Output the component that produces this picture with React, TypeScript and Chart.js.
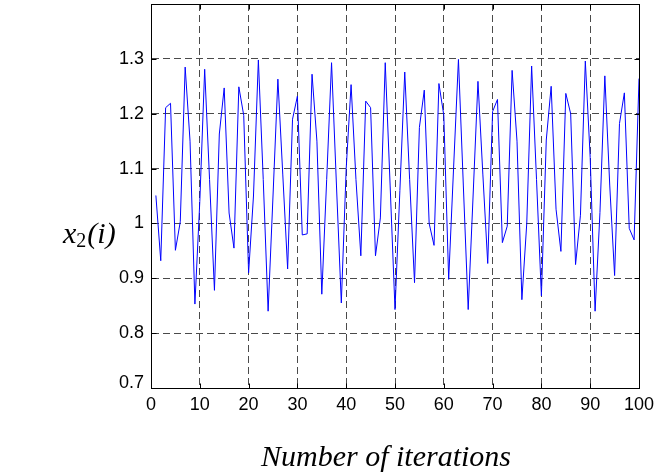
import React, { useEffect, useRef } from 'react';
import { Chart, registerables } from 'chart.js';

Chart.register(...registerables);

// Iteration index i = 1..100
const iterations: number[] = Array.from({ length: 100 }, (_, k) => k + 1);

// x2(i) values
const x2Values: number[] = [
  1.051, 0.932, 1.211, 1.219, 0.951, 1.003, 1.285, 1.15, 0.853, 1.04,
  1.281, 1.08, 0.878, 1.163, 1.247, 1.019, 0.955, 1.249, 1.197, 0.91,
  1.05, 1.298, 1.08, 0.84, 1.05, 1.263, 1.09, 0.917, 1.19, 1.232,
  0.979, 0.981, 1.272, 1.15, 0.871, 1.08, 1.293, 1.07, 0.855, 1.1,
  1.253, 1.08, 0.941, 1.223, 1.211, 0.941, 1.01, 1.293, 1.07, 0.843,
  1.06, 1.276, 1.08, 0.892, 1.175, 1.243, 1.0, 0.96, 1.255, 1.197,
  0.898, 1.1, 1.299, 1.07, 0.843, 1.05, 1.259, 1.09, 0.927, 1.204,
  1.226, 0.965, 0.995, 1.279, 1.15, 0.861, 1.0, 1.287, 1.08, 0.868,
  1.152, 1.25, 1.026, 0.949, 1.237, 1.2, 0.925, 1.015, 1.296, 1.12,
  0.84, 1.02, 1.269, 1.07, 0.905, 1.182, 1.238, 0.991, 0.97, 1.264,
];

const xTickLabels: string[] = ['0', '10', '20', '30', '40', '50', '60', '70', '80', '90', '100'];
const yTickLabels: string[] = ['0.7', '0.8', '0.9', '1', '1.1', '1.2', '1.3', ''];

const xTitle = 'Number of iterations';
const yTitleMain = 'x';
const yTitleSub = '2';
const yTitleTail = '(i)';

const tickFontCss = '18px "Liberation Sans", Arial, sans-serif';

const framePlugin = {
  id: 'matlabFrame',
  afterDraw(chart: any) {
    const { ctx, chartArea } = chart;
    const { left, right, top, bottom } = chartArea;
    const xs = chart.scales.x;
    const ys = chart.scales.y;
    ctx.save();
    ctx.strokeStyle = '#000';
    ctx.lineWidth = 1;
    ctx.setLineDash([]);
    ctx.beginPath();
    const L = Math.round(left) + 0.5;
    const R = Math.round(right) + 0.5;
    const T = Math.round(top) + 0.5;
    const B = Math.round(bottom) + 0.5;
    ctx.rect(L, T, R - L, B - T);
    ctx.stroke();
    // inward tick marks
    const tl = 5;
    ctx.beginPath();
    xs.ticks.forEach((t: any) => {
      const px = Math.round(xs.getPixelForValue(t.value)) + 0.5;
      ctx.moveTo(px, B);
      ctx.lineTo(px, B - tl);
      ctx.moveTo(px, T);
      ctx.lineTo(px, T + tl);
    });
    ys.ticks.forEach((t: any) => {
      const py = Math.round(ys.getPixelForValue(t.value)) + 0.5;
      ctx.moveTo(L, py);
      ctx.lineTo(L + tl, py);
      ctx.moveTo(R, py);
      ctx.lineTo(R - tl, py);
    });
    ctx.stroke();

    // bottom y tick label (sits slightly above the corner, as in the reference)
    ctx.fillStyle = '#000';
    ctx.font = tickFontCss;
    ctx.textAlign = 'right';
    ctx.textBaseline = 'middle';
    ctx.fillText(yTickLabels[0], left - 7, bottom - 5);

    // titles
    ctx.textBaseline = 'alphabetic';
    ctx.textAlign = 'center';
    ctx.font = 'italic 30px "Liberation Serif", "Times New Roman", serif';
    ctx.fillText(xTitle, 386, 466);

    ctx.textAlign = 'left';
    let x0 = 63;
    const base = 243;
    ctx.font = 'italic 30px "Liberation Serif", "Times New Roman", serif';
    ctx.fillText(yTitleMain, x0, base);
    x0 += ctx.measureText(yTitleMain).width;
    ctx.font = '20px "Liberation Serif", "Times New Roman", serif';
    ctx.fillText(yTitleSub, x0, base + 4);
    x0 += ctx.measureText(yTitleSub).width + 1;
    ctx.font = 'italic 30px "Liberation Serif", "Times New Roman", serif';
    ctx.fillText(yTitleTail, x0, base);
    ctx.restore();
  },
};

export default function App() {
  const canvasRef = useRef<HTMLCanvasElement | null>(null);

  useEffect(() => {
    if (!canvasRef.current) return;
    const tickFont = { family: '"Liberation Sans", Arial, sans-serif', size: 18 };
    const chart = new Chart(canvasRef.current, {
      type: 'line',
      data: {
        datasets: [
          {
            data: iterations.map((it, k) => ({ x: it, y: x2Values[k] })),
            borderColor: '#0000ff',
            borderWidth: 1,
            pointRadius: 0,
            tension: 0,
            fill: false,
          },
        ],
      },
      options: {
        animation: false,
        responsive: true,
        maintainAspectRatio: false,
        layout: { padding: { left: 0, right: 21, top: 4, bottom: 0 } },
        plugins: {
          legend: { display: false },
          tooltip: { enabled: false },
        },
        scales: {
          x: {
            type: 'linear',
            min: 0,
            max: 100,
            afterFit: (s: any) => {
              s.height = 87;
              s.paddingLeft = 0;
              s.paddingRight = 0;
            },
            ticks: {
              stepSize: 10,
              autoSkip: false,
              maxRotation: 0,
              padding: 6,
              color: '#000',
              font: tickFont,
              callback: (_v: any, idx: number) => xTickLabels[idx] ?? '',
            },
            grid: { color: '#4a4a4a', lineWidth: 1, drawTicks: false },
            border: { display: true, color: '#000', width: 1, dash: [7, 4] },
          },
          y: {
            type: 'linear',
            min: 0.7,
            max: 1.4,
            afterFit: (s: any) => {
              s.width = 151;
              s.paddingTop = 0;
              s.paddingBottom = 0;
            },
            ticks: {
              stepSize: 0.1,
              autoSkip: false,
              padding: 7,
              color: '#000',
              font: tickFont,
              callback: (_v: any, idx: number) => (idx === 0 ? '' : yTickLabels[idx] ?? ''),
            },
            grid: { color: '#4a4a4a', lineWidth: 1, drawTicks: false },
            border: { display: true, color: '#000', width: 1, dash: [7, 4] },
          },
        },
      },
      plugins: [framePlugin],
    });
    return () => chart.destroy();
  }, []);

  return (
    <div style={{ position: 'absolute', left: 0, top: 0, width: 660, height: 475, background: '#fff' }}>
      <canvas ref={canvasRef} />
    </div>
  );
}
